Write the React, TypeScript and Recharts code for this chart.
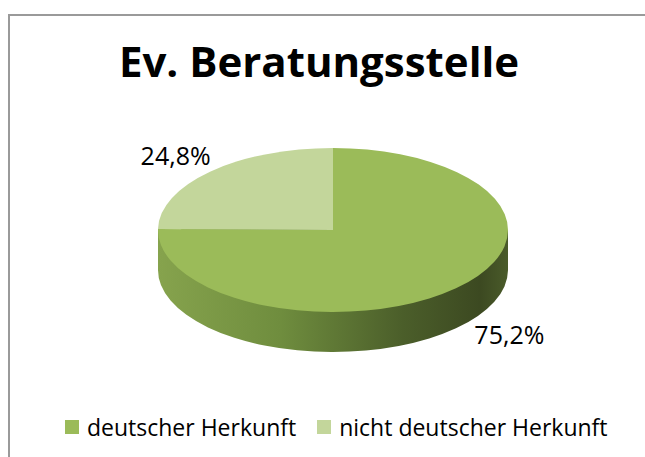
import { Cell, Pie, PieChart } from 'recharts'

const categories = ['deutscher Herkunft', 'nicht deutscher Herkunft']
const shares = [75.2, 24.8]
const colors = ['#9bbb59', '#c3d69b']

const data = categories.map((name, i) => ({ name, value: shares[i] }))

// pie is drawn as a circle and squashed vertically to fake Excel's 3D tilt
const S = 0.4686
const R = 175
const CX = 333
const TOP_CY = 230
const DEPTH = 40
const FONT = '"Open Sans", "DejaVu Sans", sans-serif'

const fmt = (v: number) => `${v.toFixed(1).replace('.', ',')}%`

function SideGradient({ id }: { id: string }) {
  return (
    <linearGradient id={id} gradientUnits="userSpaceOnUse" x1={CX - R} y1={0} x2={CX + R} y2={0}>
      <stop offset="0" stopColor="#86a34d" />
      <stop offset="0.35" stopColor="#6f8d3e" />
      <stop offset="0.7" stopColor="#4b5e2a" />
      <stop offset="0.92" stopColor="#3c4921" />
      <stop offset="1" stopColor="#4a5b2a" />
    </linearGradient>
  )
}

function renderLabel(p: any) {
  const rad = Math.PI / 180
  const r = p.outerRadius + (p.index === 0 ? 76 : 49)
  const x = p.cx + r * Math.cos(-p.midAngle * rad)
  const y = p.cy + r * Math.sin(-p.midAngle * rad) + (p.index === 0 ? 20 / S : 0)
  return (
    <text
      transform={`translate(${x},${y}) scale(1,${1 / S})`}
      textAnchor="middle"
      dominantBaseline="central"
      fontFamily={FONT}
      fontSize={25}
      fill="#000"
    >
      {fmt(p.value)}
    </text>
  )
}

export default function App() {
  const chartH = 800
  return (
    <div style={{ position: 'absolute', left: 0, top: 0, width: 645, height: 457, overflow: 'hidden', background: '#fff' }}>
      <div style={{
        position: 'absolute', left: 8, top: 14, width: 700, height: 500,
        borderTop: '2px solid #9a9a9a', borderLeft: '2px solid #9a9a9a',
      }} />
      <div style={{
        position: 'absolute', left: 0, width: 638, top: 33, textAlign: 'center',
        fontFamily: FONT, fontWeight: 700, fontSize: 42, lineHeight: '56px', color: '#000',
      }}>
        Ev. Beratungsstelle
      </div>

      {/* side wall between top face and bottom ellipse */}
      <svg width={645} height={457} style={{ position: 'absolute', left: 0, top: 0 }}>
        <defs><SideGradient id="sideRect" /></defs>
        <rect x={CX - R} y={TOP_CY} width={2 * R} height={DEPTH} fill="url(#sideRect)" />
      </svg>

      <div style={{
        position: 'absolute', left: 0, top: 0, width: 645, height: chartH,
        transform: `scaleY(${S})`, transformOrigin: '0 0',
      }}>
        <PieChart width={645} height={chartH} margin={{ top: 0, right: 0, bottom: 0, left: 0 }}>
          <defs><SideGradient id="sidePie" /></defs>
          <Pie
            data={data} dataKey="value" nameKey="name"
            cx={CX} cy={(TOP_CY + DEPTH) / S} outerRadius={R}
            startAngle={90} endAngle={-270} stroke="none"
            isAnimationActive={false}
          >
            {data.map((d) => <Cell key={d.name} fill="url(#sidePie)" />)}
          </Pie>
          <Pie
            data={data} dataKey="value" nameKey="name"
            cx={CX} cy={TOP_CY / S} outerRadius={R}
            startAngle={90} endAngle={-270} stroke="none"
            label={renderLabel} labelLine={false}
            isAnimationActive={false}
          >
            {data.map((d, i) => <Cell key={d.name} fill={colors[i]} />)}
          </Pie>
        </PieChart>
      </div>

      <div style={{
        position: 'absolute', left: 65, top: 412, display: 'flex',
        alignItems: 'center', fontFamily: FONT, fontSize: 23, lineHeight: '30px', color: '#000',
      }}>
        {categories.map((c, i) => (
          <div key={c} style={{ display: 'flex', alignItems: 'center', marginRight: i === 0 ? 21 : 0 }}>
            <span style={{ width: 14, height: 14, background: colors[i], marginRight: 8, display: 'inline-block' }} />
            <span>{c}</span>
          </div>
        ))}
      </div>
    </div>
  )
}
